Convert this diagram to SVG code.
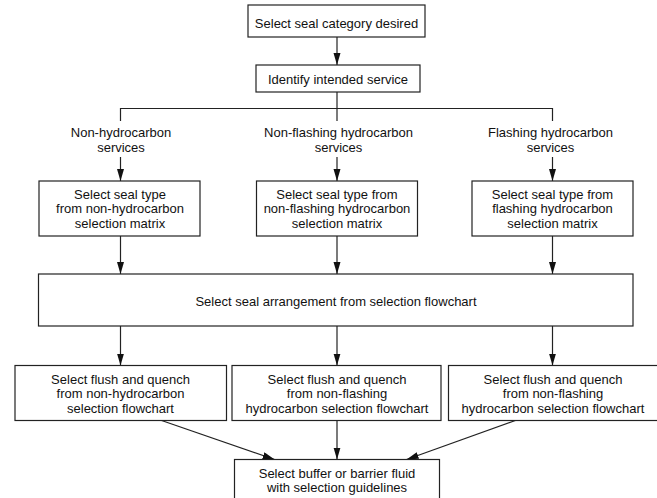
<svg xmlns="http://www.w3.org/2000/svg" width="657" height="498" viewBox="0 0 657 498">
<style>
  .box { fill: #ffffff; stroke: #222222; stroke-width: 1.2; }
  .t { font-family: "Liberation Sans", Arial, Helvetica, sans-serif; font-size: 13px; fill: #111111; text-anchor: middle; }
  .c { fill: none; stroke: #222222; stroke-width: 1.2; }
  .a { fill: none; stroke: #222222; stroke-width: 1.2; marker-end: url(#ah); }
</style>
<defs>
  <marker id="ah" markerUnits="userSpaceOnUse" markerWidth="13" markerHeight="8" refX="12" refY="3.5" orient="auto">
    <path d="M0,0 L12,3.5 L0,7 z" fill="#111111"/>
  </marker>
</defs>
<rect width="657" height="498" fill="#ffffff"/>

<g id="connectors">
  <line class="a" x1="337" y1="37" x2="337" y2="65"/>
  <polyline class="c" points="337,92 337,121"/>
  <polyline class="c" points="120.5,121 120.5,108.5 552.5,108.5 552.5,121"/>
  <line class="a" x1="120.5" y1="157" x2="120.5" y2="181"/>
  <line class="a" x1="337" y1="157" x2="337" y2="181"/>
  <line class="a" x1="552.5" y1="157" x2="552.5" y2="181"/>
  <line class="a" x1="120.5" y1="236" x2="120.5" y2="274"/>
  <line class="a" x1="337" y1="236" x2="337" y2="274"/>
  <line class="a" x1="552.5" y1="236" x2="552.5" y2="274"/>
  <line class="a" x1="120.5" y1="326" x2="120.5" y2="365.5"/>
  <line class="a" x1="337" y1="326" x2="337" y2="365.5"/>
  <line class="a" x1="552.5" y1="326" x2="552.5" y2="365.5"/>
  <line class="a" x1="161.6" y1="420.5" x2="274.6" y2="459.5"/>
  <line class="a" x1="337" y1="420.5" x2="337" y2="459.5"/>
  <line class="a" x1="515.4" y1="420.5" x2="406.6" y2="459.5"/>
</g>

<g id="n1">
  <rect class="box" x="248" y="5" width="177" height="32"/>
  <text class="t" x="336.5" y="28">Select seal category desired</text>
</g>
<g id="n2">
  <rect class="box" x="256" y="65" width="164" height="27"/>
  <text class="t" x="338" y="83.5">Identify intended service</text>
</g>
<g id="lbl1">
  <text class="t" x="121" y="137">Non-hydrocarbon</text>
  <text class="t" x="121" y="151.5">services</text>
</g>
<g id="lbl2">
  <text class="t" x="338.5" y="137">Non-flashing hydrocarbon</text>
  <text class="t" x="338.5" y="151.5">services</text>
</g>
<g id="lbl3">
  <text class="t" x="550.5" y="137">Flashing hydrocarbon</text>
  <text class="t" x="550.5" y="151.5">services</text>
</g>
<g id="n3a">
  <rect class="box" x="39" y="181" width="161" height="55"/>
  <text class="t" x="120" y="198.5">Select seal type</text>
  <text class="t" x="120" y="213.2">from non-hydrocarbon</text>
  <text class="t" x="120" y="228">selection matrix</text>
</g>
<g id="n3b">
  <rect class="box" x="256.5" y="181" width="161" height="55"/>
  <text class="t" x="337" y="198.5">Select seal type from</text>
  <text class="t" x="337" y="213.2">non-flashing hydrocarbon</text>
  <text class="t" x="337" y="228">selection matrix</text>
</g>
<g id="n3c">
  <rect class="box" x="472" y="181" width="161" height="55"/>
  <text class="t" x="552.5" y="198.5">Select seal type from</text>
  <text class="t" x="552.5" y="213.2">flashing hydrocarbon</text>
  <text class="t" x="552.5" y="228">selection matrix</text>
</g>
<g id="n4">
  <rect class="box" x="38.5" y="274" width="594.5" height="52"/>
  <text class="t" x="336" y="306">Select seal arrangement from selection flowchart</text>
</g>
<g id="n5a">
  <rect class="box" x="15" y="365.5" width="211.5" height="55"/>
  <text class="t" x="120.5" y="383.5">Select flush and quench</text>
  <text class="t" x="120.5" y="398">from non-hydrocarbon</text>
  <text class="t" x="120.5" y="412.5">selection flowchart</text>
</g>
<g id="n5b">
  <rect class="box" x="232" y="365.5" width="209" height="55"/>
  <text class="t" x="337" y="383.5">Select flush and quench</text>
  <text class="t" x="337" y="398">from non-flashing</text>
  <text class="t" x="337" y="412.5">hydrocarbon selection flowchart</text>
</g>
<g id="n5c">
  <rect class="box" x="448.5" y="365.5" width="215" height="55"/>
  <text class="t" x="553" y="383.5">Select flush and quench</text>
  <text class="t" x="553" y="398">from non-flashing</text>
  <text class="t" x="553" y="412.5">hydrocarbon selection flowchart</text>
</g>
<g id="n6">
  <rect class="box" x="234.5" y="459.5" width="205" height="50"/>
  <text class="t" x="337" y="477.5">Select buffer or barrier fluid</text>
  <text class="t" x="337" y="491.5">with selection guidelines</text>
</g>
</svg>
